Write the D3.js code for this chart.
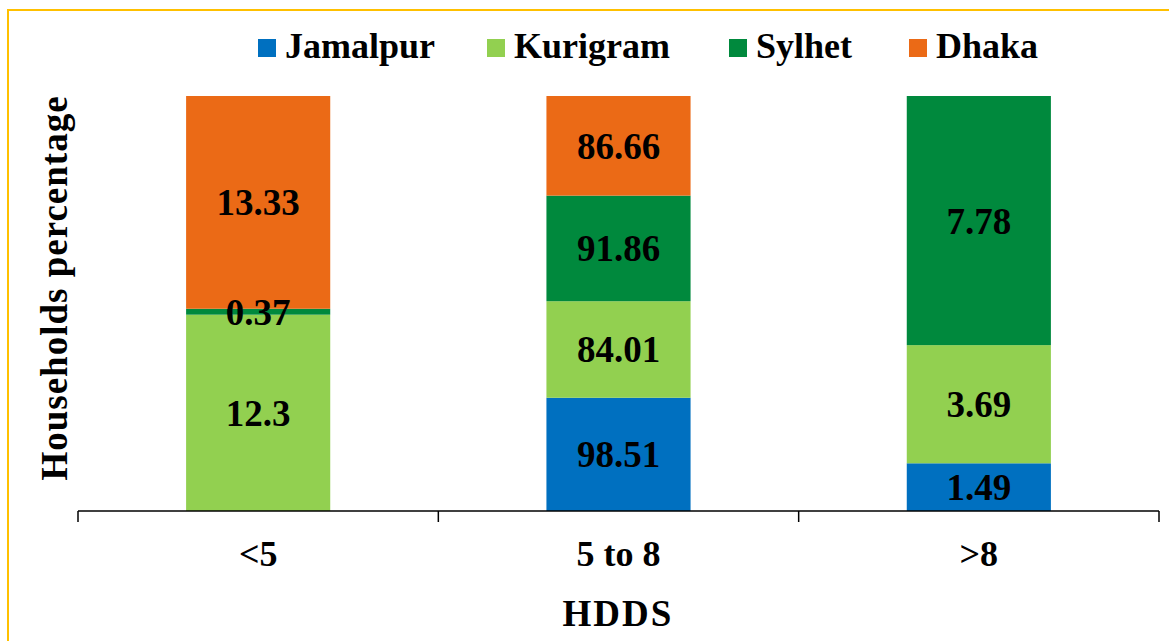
<!DOCTYPE html>
<html>
<head>
<meta charset="utf-8">
<title>HDDS households</title>
<script src="https://cdnjs.cloudflare.com/ajax/libs/d3/7.8.5/d3.min.js"></script>
<style>
  body { margin: 0; background: #fff; }
  svg text { font-family: "Liberation Serif", "DejaVu Serif", serif; font-weight: bold; fill: #000; }
</style>
</head>
<body>
<svg id="chart" width="1169" height="641"></svg>
<script>
// categories and series (values as printed on the bars)
var categories = ["<5", "5 to 8", ">8"];
var seriesNames = ["Jamalpur", "Kurigram", "Sylhet", "Dhaka"];
var jamalpur = [0, 98.51, 1.49];
var kurigram = [12.3, 84.01, 3.69];
var sylhet = [0.37, 91.86, 7.78];
var dhaka = [13.33, 86.66, 0];
var colors = ["#0070C0", "#92D050", "#00893D", "#EB6A16"];

var values = [jamalpur, kurigram, sylhet, dhaka];
var rows = categories.map(function(c, i) {
  var r = { cat: c };
  seriesNames.forEach(function(s, j) { r[s] = values[j][i]; });
  return r;
});

var svg = d3.select("#chart");

// yellow frame
svg.append("rect")
  .attr("x", 8).attr("y", 10)
  .attr("width", 1200).attr("height", 700)
  .attr("fill", "none")
  .attr("stroke", "#FFC000")
  .attr("stroke-width", 2);

var x = d3.scaleBand().domain(categories).range([78, 1159])
  .paddingInner(0.6).paddingOuter(0.3);
var y = d3.scaleLinear().domain([0, 1]).range([511, 96]);

var stack = d3.stack().keys(seriesNames).offset(d3.stackOffsetExpand);
var layers = stack(rows);

var g = svg.append("g");
layers.forEach(function(layer, li) {
  g.selectAll(null)
    .data(layer)
    .enter().append("rect")
    .attr("x", function(d) { return x(d.data.cat); })
    .attr("width", x.bandwidth())
    .attr("y", function(d) { return y(d[1]); })
    .attr("height", function(d) { return y(d[0]) - y(d[1]); })
    .attr("fill", colors[li]);
});

// value labels
layers.forEach(function(layer, li) {
  g.selectAll(null)
    .data(layer.filter(function(d) { return d.data[layer.key] > 0; }))
    .enter().append("text")
    .attr("x", function(d) { return x(d.data.cat) + x.bandwidth() / 2; })
    .attr("y", function(d) { return (y(d[0]) + y(d[1])) / 2; })
    .attr("dy", "0.35em")
    .attr("text-anchor", "middle")
    .style("font-size", "37px")
    .text(function(d) { return d.data[layer.key]; });
});

// x axis with ticks between categories
var axisG = svg.append("g");
axisG.append("line")
  .attr("x1", 78).attr("x2", 1159)
  .attr("y1", 511).attr("y2", 511)
  .attr("stroke", "#000").attr("stroke-width", 1.5);
var step = x.step();
var bounds = [78].concat(categories.map(function(c) { return x(c) + x.bandwidth() / 2 + step / 2; }));
axisG.selectAll(null).data(bounds).enter().append("line")
  .attr("x1", function(d) { return d; }).attr("x2", function(d) { return d; })
  .attr("y1", 511).attr("y2", 522)
  .attr("stroke", "#000").attr("stroke-width", 1.5);
axisG.selectAll(null).data(categories).enter().append("text")
  .attr("x", function(d) { return x(d) + x.bandwidth() / 2; })
  .attr("y", 566)
  .attr("text-anchor", "middle")
  .style("font-size", "36px")
  .text(function(d) { return d; });

// axis titles
svg.append("text")
  .attr("x", 618).attr("y", 626)
  .attr("text-anchor", "middle")
  .style("font-size", "37px")
  .style("letter-spacing", "2px")
  .text("HDDS");
svg.append("text")
  .attr("transform", "translate(67,288) rotate(-90)")
  .attr("text-anchor", "middle")
  .style("font-size", "37px")
  .style("letter-spacing", "1px")
  .text("Households percentage");

// legend
var legendX = [258, 487, 729, 909];
var legend = svg.append("g");
seriesNames.forEach(function(s, i) {
  legend.append("rect")
    .attr("x", legendX[i]).attr("y", 39)
    .attr("width", 18).attr("height", 18)
    .attr("fill", colors[i]);
  legend.append("text")
    .attr("x", legendX[i] + 27).attr("y", 58)
    .style("font-size", "36px")
    .text(s);
});
</script>
</body>
</html>
